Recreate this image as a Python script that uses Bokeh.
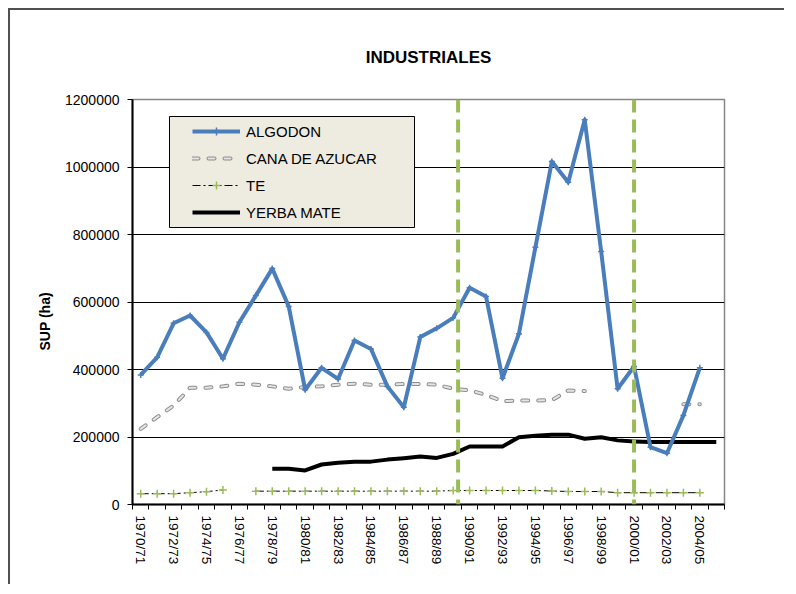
import numpy as np
from bokeh.plotting import figure
from bokeh.models import (Range1d, FixedTicker, NumeralTickFormatter, Span, Title,
                          BoxAnnotation, Legend, LegendItem, ColumnDataSource)
from bokeh.embed import file_html
from bokeh.resources import INLINE

nan = np.nan

seasons = ["1970/71", "1971/72", "1972/73", "1973/74", "1974/75", "1975/76",
           "1976/77", "1977/78", "1978/79", "1979/80", "1980/81", "1981/82",
           "1982/83", "1983/84", "1984/85", "1985/86", "1986/87", "1987/88",
           "1988/89", "1989/90", "1990/91", "1991/92", "1992/93", "1993/94",
           "1994/95", "1995/96", "1996/97", "1997/98", "1998/99", "1999/00",
           "2000/01", "2001/02", "2002/03", "2003/04", "2004/05", "2005/06"]

algodon = [384000, 436000, 537000, 560000, 510000, 432000, 540000, 619000, 699000,
           587000, 340000, 405000, 372000, 486000, 461000, 350000, 288000, 496000,
           522000, 553000, 642000, 616000, 374000, 506000, 762000, 1016000, 955000,
           1140000, 750000, 343000, 409000, 170000, 152000, 264000, 405000, nan]

cana = [224000, 259000, 293000, 346000, 346000, 350000, 358000, 355000, 350000,
        343000, 348000, 350000, 355000, 358000, 355000, 355000, 357000, 357000,
        355000, 343000, 338000, 325000, 306000, 308000, 308000, 309000, 338000,
        336000, nan, nan, nan, nan, nan, 297000, 297000, nan]

te = [32000, 32000, 32000, 35000, 38000, 43000, nan, 39500, 39500,
      39500, 39500, 39500, 39500, 39500, 39500, 39500, 39500, 39500,
      39500, 41500, 41500, 41500, 41500, 41500, 41500, 40000, 38500,
      38500, 38500, 35000, 35000, 35000, 35000, 35000, 35000, nan]

yerba = [nan, nan, nan, nan, nan, nan, nan, nan, 106000,
         106000, 101000, 118500, 123500, 127000, 127000, 133000, 137000, 142000,
         138000, 150000, 172000, 172000, 172000, 199000, 204000, 207000, 207000,
         195000, 199000, 190000, 187000, 185000, 185000, 185000, 185000, 185000]

y_ticks = [0, 200000, 400000, 600000, 800000, 1000000, 1200000]
event_lines = [19.8, 30.5]   # positions (in season units) of the green dashed markers

TITLE = "INDUSTRIALES"
Y_LABEL = "SUP (ha)"

n = len(seasons)
xpos = np.arange(n) + 0.5
src = ColumnDataSource(dict(x=xpos, algodon=algodon, cana=cana, te=te, yerba=yerba))

FONT = "Liberation Sans"

p = figure(width=776, height=576, output_backend="svg", toolbar_location=None,
           x_range=Range1d(0, n), y_range=Range1d(0, 1200000),
           min_border_left=122, min_border_right=62, min_border_top=89,
           min_border_bottom=82, background_fill_color="white",
           border_fill_color="white")
p.styles = {"border-top": "2px solid #505050", "border-left": "2px solid #505050",
            "margin-left": "8px", "margin-top": "8px"}

# main axes (grab them before any extra panels are added)
xa = p.below[0]
ya = p.left[0]

p.title.text = TITLE
p.title.text_font = FONT
p.title.text_font_size = "17px"
p.title.text_font_style = "bold"
p.title.align = "center"
p.title.standoff = 66
p.title.text_color = "black"

# y-axis label as a left-side title, shifted along the axis like the reference
p.add_layout(Title(text=Y_LABEL, standoff=18, text_font=FONT, text_font_size="14px",
                   text_font_style="bold", text_color="black", align="left",
                   offset=154), "left")

p.outline_line_color = "#868686"
p.outline_line_width = 1.5

# page-pixel -> data helpers (frame spans page x 132..724, y 99..504)
def x_at(px):
    return (px - 132) / (724 - 132) * n

def y_at(py):
    return (504 - py) / (504 - 99) * 1200000

# axes
xa.ticker = FixedTicker(ticks=list(xpos[::2]), minor_ticks=list(range(n + 1)))
xa.major_label_overrides = {float(xpos[i]): seasons[i] for i in range(0, n, 2)}
xa.major_tick_out = 0
xa.major_tick_in = 0
xa.minor_tick_out = 5
xa.minor_tick_in = 0
xa.minor_tick_line_color = "black"
xa.minor_tick_line_width = 1
xa.axis_line_color = "black"
xa.axis_line_width = 2
xa.major_label_orientation = "vertical"
xa.major_label_standoff = 6
xa.major_label_text_font = FONT
xa.major_label_text_font_size = "13.5px"
xa.major_label_text_color = "black"

ya.ticker = FixedTicker(ticks=y_ticks)
ya.formatter = NumeralTickFormatter(format="0")
ya.major_tick_out = 5
ya.major_tick_in = 0
ya.minor_tick_out = 0
ya.minor_tick_in = 0
ya.major_tick_line_color = "black"
ya.axis_line_color = "black"
ya.axis_line_width = 2
ya.major_label_standoff = 8
ya.major_label_text_font = FONT
ya.major_label_text_font_size = "14px"
ya.major_label_text_color = "black"

p.xgrid.visible = False
p.ygrid.ticker = FixedTicker(ticks=y_ticks)
p.ygrid.grid_line_color = "black"
p.ygrid.grid_line_width = 1

# series
BLUE = "#4A7EBB"
GREEN = "#9BBB59"

r_cana_o = p.line("x", "cana", source=src, line_color="#8C8C8C", line_width=4,
                  line_dash="6 10", line_cap="round")
r_cana_i = p.line("x", "cana", source=src, line_color="#E4E4E4", line_width=2,
                  line_dash="6 10", line_cap="round")
r_te = p.line("x", "te", source=src, line_color="black", line_width=1,
              line_dash="8 3 2 3")
r_te_m = p.scatter("x", "te", source=src, marker="cross", size=8,
                   line_color=GREEN, line_width=1.5)
r_yerba = p.line("x", "yerba", source=src, line_color="black", line_width=4,
                 line_join="round")
r_alg = p.line("x", "algodon", source=src, line_color=BLUE, line_width=4,
               line_join="round")
r_alg_m = p.scatter("x", "algodon", source=src, marker="cross", size=6,
                    line_color=BLUE, line_width=1.5)

for ev in event_lines:
    p.add_layout(Span(location=ev, dimension="height", line_color=GREEN,
                      line_width=4, line_dash="13 7"))

# legend box (beige)
p.add_layout(BoxAnnotation(left=x_at(169), right=x_at(414), top=y_at(116),
                           bottom=y_at(227), fill_color="#EEECE1", fill_alpha=1,
                           line_color="black", line_width=1, line_alpha=1))

legend = Legend(items=[
    LegendItem(label="ALGODON", renderers=[r_alg, r_alg_m]),
    LegendItem(label="CANA DE AZUCAR", renderers=[r_cana_o, r_cana_i]),
    LegendItem(label="TE", renderers=[r_te, r_te_m]),
    LegendItem(label="YERBA MATE", renderers=[r_yerba]),
], location=(60, 282), padding=0, margin=0, spacing=7, glyph_width=48,
   glyph_height=20, label_height=20, label_standoff=6,
   background_fill_alpha=0, border_line_alpha=0,
   label_text_font=FONT, label_text_font_size="15px", label_text_color="black")
p.add_layout(legend, "center")

open("out.html", "w").write(file_html(p, INLINE))
